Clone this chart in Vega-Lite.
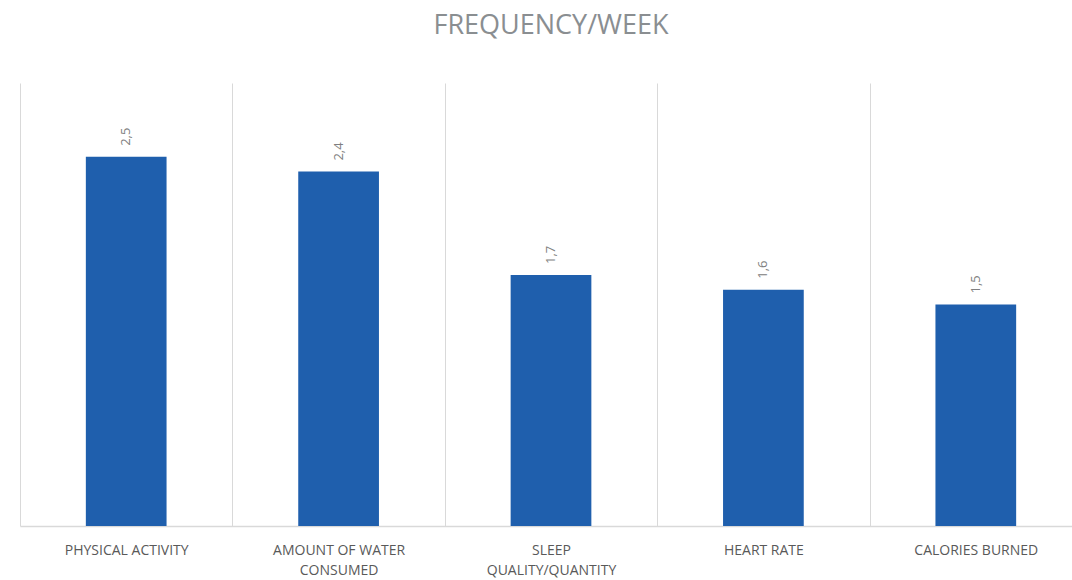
{
  "$schema": "https://vega.github.io/schema/vega-lite/v6.json",
  "width": 1062,
  "height": 443,
  "autosize": {"type": "none"},
  "padding": {"left": 20, "top": 83, "right": 0, "bottom": 54},
  "background": "white",
  "title": {
    "text": "FREQUENCY/WEEK",
    "font": "Open Sans",
    "fontSize": 27,
    "fontWeight": "normal",
    "color": "#8a8e91",
    "anchor": "middle",
    "offset": 43
  },
  "data": {
    "values": [
      {"category": "PHYSICAL ACTIVITY", "value": 2.5, "label": "2,5"},
      {"category": "AMOUNT OF WATER CONSUMED", "value": 2.4, "label": "2,4"},
      {"category": "SLEEP QUALITY/QUANTITY", "value": 1.7, "label": "1,7"},
      {"category": "HEART RATE", "value": 1.6, "label": "1,6"},
      {"category": "CALORIES BURNED", "value": 1.5, "label": "1,5"}
    ]
  },
  "encoding": {
    "x": {
      "field": "category",
      "type": "nominal",
      "sort": null,
      "scale": {"paddingInner": 0, "paddingOuter": 0},
      "axis": {
        "title": null,
        "labelAngle": 0,
        "labelFont": "Open Sans",
        "labelFontSize": 14,
        "labelColor": "#595959",
        "labelPadding": 17,
        "labelLineHeight": 20,
        "labelExpr": "datum.value == 'AMOUNT OF WATER CONSUMED' ? ['AMOUNT OF WATER', 'CONSUMED'] : datum.value == 'SLEEP QUALITY/QUANTITY' ? ['SLEEP', 'QUALITY/QUANTITY'] : datum.value",
        "ticks": false,
        "tickBand": "extent",
        "grid": true,
        "gridColor": "#d9d9d9",
        "gridWidth": 1,
        "domainColor": "#d9d9d9",
        "domainWidth": 1.5
      }
    },
    "y": {
      "field": "value",
      "type": "quantitative",
      "scale": {"domain": [0, 3]},
      "axis": null
    }
  },
  "layer": [
    {"mark": {"type": "bar", "color": "#1f5fad", "width": {"band": 0.38}}},
    {
      "mark": {
        "type": "text",
        "angle": 270,
        "align": "left",
        "baseline": "middle",
        "dx": 11,
        "font": "Open Sans",
        "fontSize": 13,
        "color": "#808080"
      },
      "encoding": {"text": {"field": "label"}}
    }
  ],
  "config": {"view": {"stroke": null}}
}
